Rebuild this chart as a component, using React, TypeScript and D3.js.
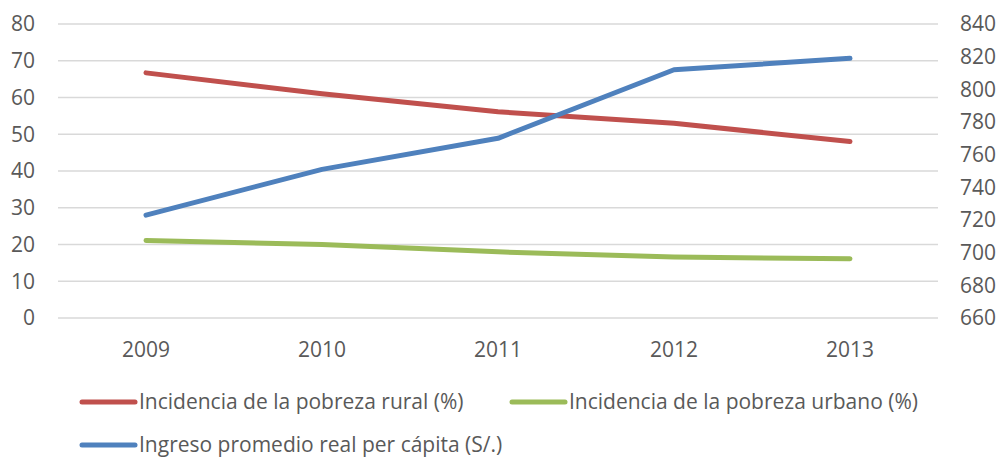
import React from "react";
import * as d3 from "d3";

const years = ["2009", "2010", "2011", "2012", "2013"];
const rural = [66.7, 61.0, 56.1, 53.0, 48.0];
const urbano = [21.1, 20.0, 18.0, 16.6, 16.1];
const ingreso = [723, 751, 770, 812, 819];
const leftTicks = [0, 10, 20, 30, 40, 50, 60, 70, 80];
const rightTicks = [660, 680, 700, 720, 740, 760, 780, 800, 820, 840];
const seriesNames = [
  "Incidencia de la pobreza rural (%)",
  "Incidencia de la pobreza urbano (%)",
  "Ingreso promedio real per cápita (S/.)",
];

const W = 1000, H = 458;
const left = 58, right = 938, top = 24, bottom = 318;
const font = "'Open Sans', sans-serif";
const txt = "#595959";
const colors = { rural: "#C0504D", urbano: "#9BBB59", ingreso: "#4F81BD" };

export default function App() {
  const x = d3.scaleBand<string>().domain(years).range([left, right]);
  const yL = d3.scaleLinear().domain([0, 80]).range([bottom, top]);
  const yR = d3.scaleLinear().domain([660, 840]).range([bottom, top]);
  const cx = (d: string) => (x(d) as number) + x.bandwidth() / 2;
  const lineL = d3.line<number>().x((_, i) => cx(years[i])).y((v) => yL(v));
  const lineR = d3.line<number>().x((_, i) => cx(years[i])).y((v) => yR(v));

  const legend = [
    { name: seriesNames[0], color: colors.rural, x: 82, y: 402 },
    { name: seriesNames[1], color: colors.urbano, x: 512, y: 402 },
    { name: seriesNames[2], color: colors.ingreso, x: 82, y: 445 },
  ];

  return (
    <svg width={W} height={H} style={{ position: "absolute", left: 0, top: 0, background: "#fff" }}>
      {leftTicks.map((t) => (
        <line key={t} x1={left} x2={right} y1={yL(t)} y2={yL(t)} stroke="#D9D9D9" strokeWidth={1.3} />
      ))}
      {leftTicks.map((t) => (
        <text key={"l" + t} x={35} y={yL(t)} dy="0.35em" textAnchor="end" fontFamily={font} fontSize={21} fill={txt}>
          {t}
        </text>
      ))}
      {rightTicks.map((t) => (
        <text key={"r" + t} x={960} y={yR(t)} dy="0.35em" textAnchor="start" fontFamily={font} fontSize={21} fill={txt}>
          {t}
        </text>
      ))}
      {years.map((y) => (
        <text key={y} x={cx(y)} y={350} dy="0.35em" textAnchor="middle" fontFamily={font} fontSize={21} fill={txt}>
          {y}
        </text>
      ))}
      <path d={lineL(rural) as string} fill="none" stroke={colors.rural} strokeWidth={5} strokeLinecap="round" strokeLinejoin="round" />
      <path d={lineL(urbano) as string} fill="none" stroke={colors.urbano} strokeWidth={5} strokeLinecap="round" strokeLinejoin="round" />
      <path d={lineR(ingreso) as string} fill="none" stroke={colors.ingreso} strokeWidth={5} strokeLinecap="round" strokeLinejoin="round" />
      {legend.map((l) => (
        <g key={l.name}>
          <line x1={l.x} x2={l.x + 53} y1={l.y} y2={l.y} stroke={l.color} strokeWidth={5} strokeLinecap="round" />
          <text x={l.x + 57} y={l.y} dy="0.33em" fontFamily={font} fontSize={21} fill={txt}>
            {l.name}
          </text>
        </g>
      ))}
    </svg>
  );
}
